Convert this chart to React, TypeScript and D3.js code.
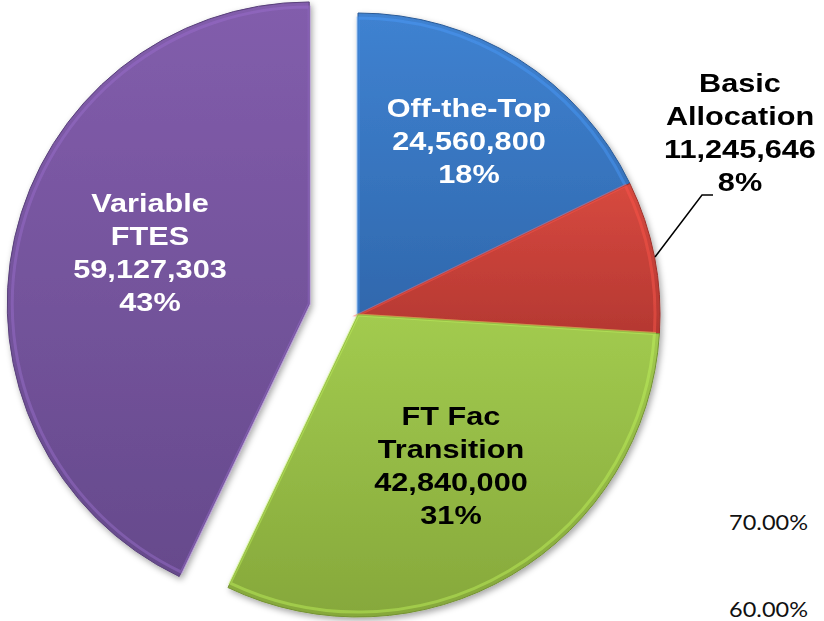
import { useEffect, useRef } from "react"
import * as d3 from "d3"

// slice data, clockwise from 12 o'clock
const categories = ["Off-the-Top", "Basic Allocation", "FT Fac Transition", "Variable FTES"]
const amounts = [24560800, 11245646, 42840000, 59127303]
const percents = ["18%", "8%", "31%", "43%"]
const labelLines = [
  ["Off-the-Top", "24,560,800", "18%"],
  ["Basic", "Allocation", "11,245,646", "8%"],
  ["FT Fac", "Transition", "42,840,000", "31%"],
  ["Variable", "FTES", "59,127,303", "43%"],
]
const leftoverTicks = ["70.00%", "60.00%"]

const colors = ["#3d7dca", "#cf463d", "#9cc44c", "#7d5aa6"]
const darker = ["#3068ad", "#b53832", "#86a83b", "#664a8c"]
const textColors = ["#ffffff", "#000000", "#000000", "#ffffff"]

const App = () => {
  const svgRef = useRef<SVGSVGElement>(null)

  useEffect(() => {
    const width = 824
    const height = 621
    const svg = d3.select(svgRef.current)
      .attr("width", width)
      .attr("height", height)
      .style("background", "#fff")
    svg.selectAll("*").remove()

    const cx = 358
    const cy = 315
    const radius = 302
    const explode = 50
    const stretch = 1.18

    const defs = svg.append("defs")
    colors.forEach((c, i) => {
      const g = defs.append("linearGradient")
        .attr("id", `grad${i}`)
        .attr("x1", 0).attr("y1", 0).attr("x2", 0).attr("y2", 1)
      g.append("stop").attr("offset", "0%").attr("stop-color", d3.color(c)!.brighter(0.1).toString())
      g.append("stop").attr("offset", "100%").attr("stop-color", darker[i])
    })
    const shadow = defs.append("filter").attr("id", "shadow")
      .attr("x", "-10%").attr("y", "-10%").attr("width", "120%").attr("height", "120%")
    shadow.append("feDropShadow")
      .attr("dx", 2).attr("dy", 3).attr("stdDeviation", 3)
      .attr("flood-color", "#000").attr("flood-opacity", 0.35)

    const pie = d3.pie<number>().sort(null).value(d => d)
    const arcs = pie(amounts)
    const arc = d3.arc<d3.PieArcDatum<number>>()
      .innerRadius(0)
      .outerRadius(radius)
    const bevel = d3.arc<d3.PieArcDatum<number>>()
      .innerRadius(0)
      .outerRadius(radius - 5)

    const offset = (a: d3.PieArcDatum<number>, i: number) => {
      if (i !== 3) return [0, 0]
      const mid = (a.startAngle + a.endAngle) / 2
      return [Math.sin(mid) * explode, -Math.cos(mid) * explode]
    }

    const slices = svg.append("g").attr("filter", "url(#shadow)")
    const sliceG = slices.selectAll("g")
      .data(arcs)
      .join("g")
      .attr("transform", (d, i) => {
        const [dx, dy] = offset(d, i)
        return `translate(${cx + dx},${cy + dy})`
      })
    sliceG.append("path")
      .attr("d", d => arc(d))
      .attr("fill", (_, i) => `url(#grad${i})`)
      .attr("stroke", (_, i) => d3.color(darker[i])!.darker(0.4).toString())
      .attr("stroke-width", 1)
      .attr("stroke-linejoin", "round")
    // soft inner highlight imitating the bevel
    sliceG.append("path")
      .attr("d", d => bevel(d))
      .attr("fill", "none")
      .attr("stroke", (_, i) => d3.color(colors[i])!.brighter(0.6).toString())
      .attr("stroke-opacity", 0.45)
      .attr("stroke-width", 3)

    // label anchor positions (centre x, first baseline y)
    const labelPos = [
      [469, 117],
      [740, 92],
      [451, 425],
      [150, 212],
    ]
    const lineGap = 33

    // leader line for the small slice
    svg.append("path")
      .attr("d", d3.line()([[655, 257], [702, 195], [713, 195]]))
      .attr("fill", "none")
      .attr("stroke", "#000")
      .attr("stroke-width", 1.5)

    labelLines.forEach((lines, i) => {
      const [lx, ly] = labelPos[i]
      const g = svg.append("g")
        .attr("transform", `translate(${lx},${ly}) scale(${stretch},1)`)
        .attr("aria-label", `${categories[i]} ${percents[i]}`)
      g.selectAll("text")
        .data(lines)
        .join("text")
        .attr("x", 0)
        .attr("y", (_, j) => j * lineGap)
        .attr("text-anchor", "middle")
        .attr("font-family", "'Liberation Sans', Arial, sans-serif")
        .attr("font-weight", "bold")
        .attr("font-size", 26)
        .attr("fill", textColors[i])
        .text(d => d)
    })

    // stray axis labels from a chart behind
    const tickY = [530, 617]
    leftoverTicks.forEach((t, i) => {
      svg.append("text")
        .attr("transform", `translate(808,${tickY[i]}) scale(1.12,1)`)
        .attr("text-anchor", "end")
        .attr("font-family", "Lato, 'Open Sans', sans-serif")
        .attr("font-size", 21)
        .attr("fill", "#111")
        .text(t)
    })
  }, [])

  return (
    <svg ref={svgRef} style={{ position: "absolute", left: 0, top: 0 }}></svg>
  )
}

export default App
